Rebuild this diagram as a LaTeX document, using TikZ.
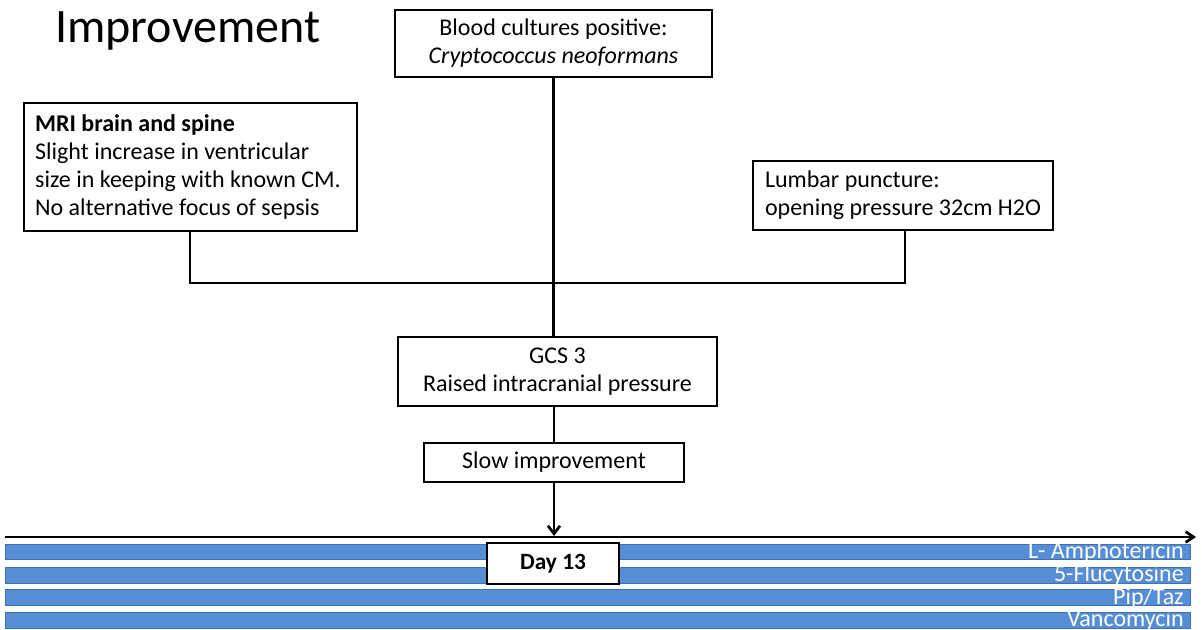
\documentclass[tikz,border=0pt]{standalone}
\usepackage{fontspec}
\setmainfont{Carlito}
\usetikzlibrary{arrows.meta}
\definecolor{barblue}{RGB}{85,142,213}
\definecolor{barline}{RGB}{65,113,180}
\begin{document}
\begin{tikzpicture}[x=0.75pt,y=-0.75pt,
  box/.style={draw=black,line width=2pt,fill=white,inner sep=0pt,font=\fontsize{18}{21}\selectfont},
  conn/.style={line width=2pt},
  bar/.style={fill=barblue,draw=barline,line width=0.6pt},
  barlabel/.style={anchor=base east,text=white,inner sep=0pt,font=\fontsize{18}{20}\selectfont}]
\useasboundingbox (0,0) rectangle (1202,629);
\node[anchor=base west,inner sep=0pt,font=\fontsize{36}{42}\selectfont] (title) at (55,42) {Improvement};

% bars
\fill[bar] (5,544) rectangle (1190,559);
\fill[bar] (5,567) rectangle (1190,583);
\fill[bar] (5,589) rectangle (1190,605);
\fill[bar] (5,612) rectangle (1190,628);
\node[barlabel] (amph) at (1184,558) {L- Amphotericin};
\node[barlabel] (fluc) at (1184,581) {5-Flucytosine};
\node[barlabel] (pip) at (1184,604) {Pip/Taz};
\node[barlabel] (vanc) at (1184,626) {Vancomycin};

% axis
\coordinate (axs) at (5,537);
\coordinate (axe) at (1196,537);
\draw[line width=2pt,-{Straight Barb[length=6pt,width=8pt]}] (axs) -- (axe);

\node[box,minimum width=237.75pt,minimum height=50.25pt,align=center] (blood) at (553.5,43.5)
  {Blood cultures positive:\\\textit{Cryptococcus neoformans}};
\node[box,minimum width=249.75pt,minimum height=96pt,align=flush left,text width=233pt,inner xsep=8pt] (mri) at (190.5,167)
  {\textbf{MRI brain and spine}\\Slight increase in ventricular\\size in keeping with known CM.\\No alternative focus of sepsis};
\node[box,minimum width=225pt,minimum height=51.75pt,align=flush left,text width=207pt,inner xsep=9pt] (lp) at (903,195.5)
  {Lumbar puncture:\\opening pressure 32cm H2O};
\node[box,minimum width=239.25pt,minimum height=51.75pt,align=center] (gcs) at (557.5,371.5)
  {GCS 3\\ Raised intracranial pressure};
\node[box,minimum width=195pt,minimum height=29.25pt] (slow) at (554,462.5) {Slow improvement};
\node[box,minimum width=99pt,minimum height=30.75pt,font=\fontsize{17.5}{20}\selectfont\bfseries] (day) at (553,563.5) {Day 13};

\coordinate (j1) at (190,283);
\coordinate (j2) at (905,283);
\draw[conn] (mri.south -| j1) -- (j1) -- (j2) -- (lp.south -| j2);
\draw[conn] (blood.south) -- (blood.south |- gcs.north);
\draw[conn] (gcs.south -| slow.south) -- (slow.north);
\coordinate (arr) at (554,536);
\draw[conn,-{Straight Barb[length=6pt,width=9pt]}] (slow.south) -- (arr);
\end{tikzpicture}
\end{document}
